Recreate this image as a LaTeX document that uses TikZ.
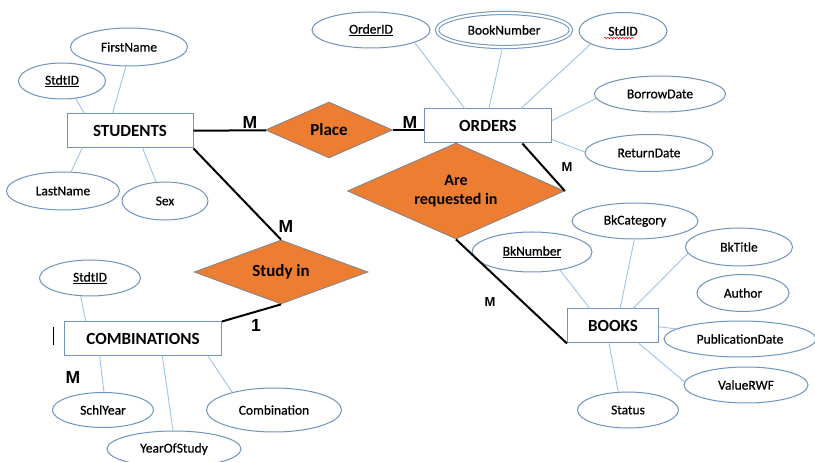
\documentclass[tikz,border=0pt]{standalone}
\usepackage{fontspec}
\setmainfont{Carlito}
\newfontfamily\attrfont{Carlito}[FakeBold=0.6]
\newfontfamily\cardfont{Liberation Sans}
\usetikzlibrary{shapes.geometric,decorations.pathmorphing}

\definecolor{erorange}{HTML}{ED7D31}
\definecolor{erborder}{HTML}{6F92BE}
\definecolor{erlink}{HTML}{9DC3E6}

\tikzset{
  entity/.style={draw=erborder, line width=1pt, fill=white, rectangle, inner sep=0pt,
    minimum height=34pt, font=\fontsize{17}{19}\selectfont\bfseries},
  attr/.style={draw=erborder, line width=1pt, fill=white, ellipse, inner sep=0pt,
    minimum height=36pt, font=\attrfont\fontsize{13.5}{15}\selectfont},
  relation/.style={draw=gray!70!erborder, line width=0.8pt, fill=erorange, diamond,
    aspect=2.3, inner sep=0pt, font=\fontsize{17}{19}\selectfont\bfseries, align=center},
  attrlink/.style={draw=erlink, line width=0.9pt},
  rellink/.style={draw=black, line width=2pt},
  bigcard/.style={font=\cardfont\fontsize{17.5}{19}\selectfont\bfseries, inner sep=0pt},
  smallcard/.style={font=\cardfont\fontsize{13}{15}\selectfont\bfseries, inner sep=0pt}
}

\begin{document}
\begin{tikzpicture}[x=1pt,y=-1pt]
    \useasboundingbox (0,0) rectangle (815,462);

    % Entities
    \node[entity, minimum width=126pt] (stu) at (130,131) {STUDENTS};
    \node[entity, minimum width=127pt] (ord) at (488,126) {ORDERS};
    \node[entity, minimum width=91pt] (bks) at (613,326) {BOOKS\hspace{16pt}};
    \node[entity, minimum width=157pt] (com) at (143,339) {COMBINATIONS};

    % Relationships
    \node[relation, minimum width=127pt, minimum height=56pt] (place) at (329,130) {Place};
    \node[relation, minimum width=217pt, minimum height=96pt, font=\fontsize{16}{19}\selectfont\bfseries]
        (areq) at (456,191) {Are\\requested in};
    \node[relation, minimum width=174pt, minimum height=64pt] (study) at (281,272) {Study in};

    % Attributes of STUDENTS
    \node[attr, minimum width=117pt, minimum height=38pt] (fn) at (129,47) {FirstName};
    \node[attr, minimum width=87pt] (sid1) at (62,81) {\underline{StdtID}};
    \node[attr, minimum width=113pt, minimum height=38pt] (ln) at (63,191) {LastName};
    \node[attr, minimum width=86pt, minimum height=38pt] (sex) at (165,201) {Sex};

    % Attributes of ORDERS
    \node[attr, minimum width=118pt] (oid) at (371,30) {\underline{OrderID}};
    \node[attr, minimum width=134pt, minimum height=34pt, double=white, double distance=2.2pt] (bn) at (504,30) {BookNumber};
    \node[attr, minimum width=88pt, minimum height=37pt] (sid2) at (623,31) {StdID};
    \node[attr, minimum width=131pt] (bd) at (660,94) {BorrowDate};
    \node[attr, minimum width=128pt, minimum height=37pt] (rd) at (649,153) {ReturnDate};
    \draw[red, line width=0.6pt, decorate, decoration={snake, amplitude=0.7pt, segment length=3pt}]
        (604,38) -- (634,38);

    % Attributes of BOOKS
    \node[attr, minimum width=120pt, minimum height=40pt] (bkn) at (532,252) {\underline{BkNumber}};
    \node[attr, minimum width=126pt] (bkc) at (635,221) {BkCategory};
    \node[attr, minimum width=107pt, minimum height=38pt] (bkt) at (739,247) {BkTitle};
    \node[attr, minimum width=92pt, minimum height=37pt] (aut) at (743,293) {Author};
    \node[attr, minimum width=152pt] (pd) at (740,339) {PublicationDate};
    \node[attr, minimum width=124pt] (vr) at (746,385) {ValueRWF};
    \node[attr, minimum width=101pt] (st) at (628,410) {Status};

    % Attributes of COMBINATIONS
    \node[attr, minimum width=101pt] (sid3) at (90,278) {\underline{StdtID}};
    \node[attr, minimum width=101pt, minimum height=35pt] (sy) at (103,410) {SchlYear};
    \node[attr, minimum width=134pt] (yos) at (174,449) {YearOfStudy};
    \node[attr, minimum width=135pt, minimum height=44pt] (cmb) at (274,410) {Combination};

    % Attribute links
    \draw[attrlink] (fn.261) -- (stu.135);
    \draw[attrlink] (sid1.308) -- (stu.159);
    \draw[attrlink] (ln.67) -- (stu.200);
    \draw[attrlink] (sex.115) -- (stu.306);

    \draw[attrlink] (oid.344) -- (ord.143);
    \draw[attrlink] (bn.265) -- (ord.87);
    \draw[attrlink] (sid2.202) -- (ord.28);
    \draw[attrlink] (bd.184) -- (ord.5);
    \draw[attrlink] (rd.179) -- (ord.348);

    \draw[attrlink] (bkn.327) -- (bks.143);
    \draw[attrlink] (bkc.268) -- (bks.68);
    \draw[attrlink] (bkt.187) -- (bks.41);
    \draw[attrlink] (pd.171) -- (bks.359);
    \draw[attrlink] (vr.177) -- (bks.326);
    \draw[attrlink] (st.118) -- (bks.257);

    \draw[attrlink] (sid3.243) -- (com.163);
    \draw[attrlink] (sy.87) -- (com.202);
    \draw[attrlink] (yos.93) -- (com.318);
    \draw[attrlink] (cmb.157) -- (com.345);

    % Relationship links
    \draw[rellink] (stu) -- (place);
    \draw[rellink] (place.east) -- (ord.west |- place.east);
    \draw[rellink] (ord.333) -- (areq.east);
    \draw[rellink] (areq.south) -- (bks.south west);
    \draw[rellink] (stu.south east) -- (study.north);
    \draw[rellink] (study.south) -- (com.north east);

    % Cardinalities
    \node[bigcard] (c1) at (250,122) {M};
    \node[bigcard] (c2) at (410,122) {M};
    \node[smallcard] (c3) at (567,167) {M};
    \node[smallcard] (c4) at (490,302) {M};
    \node[bigcard] (c5) at (286,226) {M};
    \node[bigcard] (c6) at (256,325) {1};
    \node[bigcard] (c7) at (73,377) {M};
    \draw[black, line width=0.8pt] (53,327) -- (53,345);
\end{tikzpicture}
\end{document}
